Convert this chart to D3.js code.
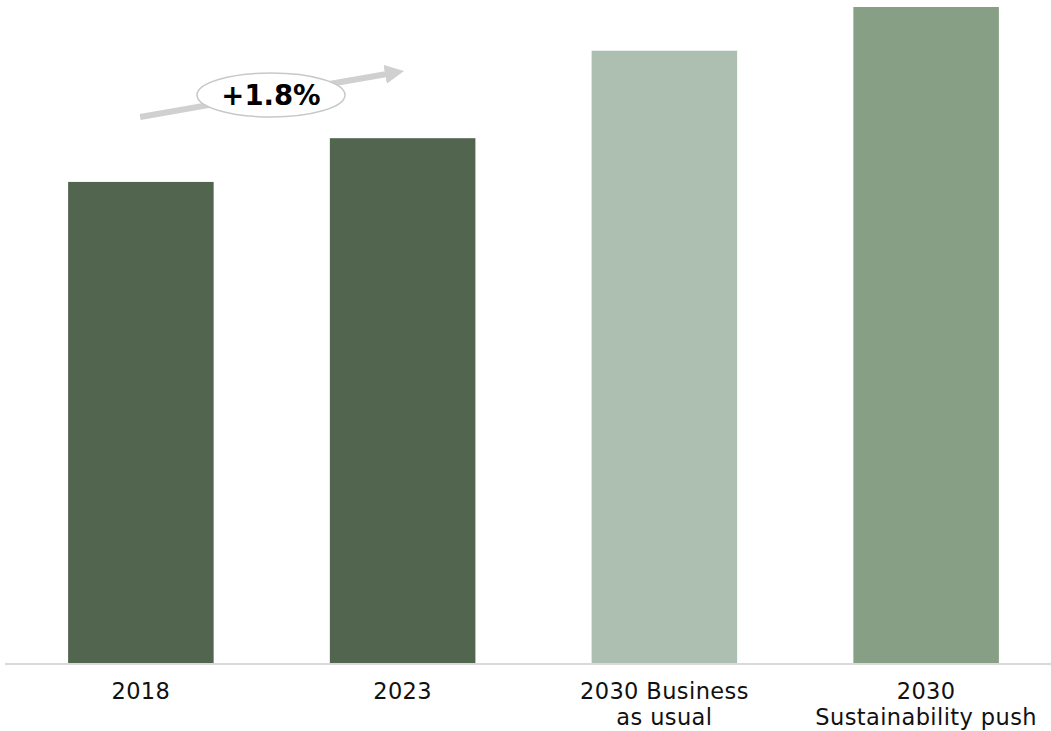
<!DOCTYPE html>
<html><head><meta charset="utf-8">
<script src="https://cdn.jsdelivr.net/npm/d3@7"></script>
<style>body{margin:0;background:#fff}svg{display:block}</style>
</head><body><svg id="c" width="1051" height="731"></svg>
<script>
const categories = ["2018", "2023", "2030 Business|as usual", "2030|Sustainability push"];
const values = [11.0, 12.0, 14.0, 15.0];
const colors = ["#52654f", "#52654f", "#adbfb0", "#87a085"];
const growthLabel = "+1.8%";

const svg = d3.select("#c");
const W = 1051, H = 731;
const x = d3.scaleBand().domain(categories).range([10, 1057]).paddingInner(0.444).paddingOuter(0.222);
const y = d3.scaleLinear().domain([0, 15]).range([663, 7]);

svg.selectAll("rect.bar").data(values).enter().append("rect")
  .attr("class", "bar")
  .attr("x", (d, i) => x(categories[i]))
  .attr("width", x.bandwidth())
  .attr("y", d => y(d))
  .attr("height", d => y(0) - y(d))
  .attr("fill", (d, i) => colors[i]);

svg.append("line").attr("x1", 5).attr("x2", W).attr("y1", 664).attr("y2", 664)
  .attr("stroke", "#d9d9d9").attr("stroke-width", 2);

const lbl = svg.selectAll("text.cat").data(categories).enter().append("text")
  .attr("class", "cat")
  .attr("text-anchor", "middle")
  .attr("font-family", "DejaVu Sans, Verdana, sans-serif")
  .attr("font-size", 22.5)
  .attr("letter-spacing", 0.4)
  .attr("fill", "#111");
lbl.each(function(d) {
  const parts = d.split("|");
  const t = d3.select(this);
  const cx = x(d) + x.bandwidth() / 2;
  parts.forEach((p, j) => {
    t.append("tspan").attr("x", cx).attr("y", 698.5 + j * 26.3).text(p);
  });
});

// growth arrow
const defs = svg.append("defs");
defs.append("marker").attr("id", "ah").attr("viewBox", "0 0 10 10")
  .attr("refX", 1).attr("refY", 5).attr("markerWidth", 3.2).attr("markerHeight", 3.2)
  .attr("orient", "auto").attr("markerUnits", "strokeWidth")
  .append("path").attr("d", "M0,0 L10,5 L0,10 Z").attr("fill", "#d0d0d0");
const x1 = x(categories[0]) + 72, y1 = 117;
svg.append("line").attr("x1", x1).attr("y1", y1).attr("x2", 387).attr("y2", 74)
  .attr("stroke", "#d0d0d0").attr("stroke-width", 6).attr("marker-end", "url(#ah)");
svg.append("ellipse").attr("cx", 271).attr("cy", 95).attr("rx", 74).attr("ry", 22)
  .attr("fill", "#fff").attr("stroke", "#c8c8c8").attr("stroke-width", 1.5);
svg.append("text").attr("x", 271).attr("y", 105).attr("text-anchor", "middle")
  .attr("font-family", "DejaVu Sans, Verdana, sans-serif").attr("font-weight", "bold")
  .attr("font-size", 27.5).attr("fill", "#000").text(growthLabel);
</script></body></html>
